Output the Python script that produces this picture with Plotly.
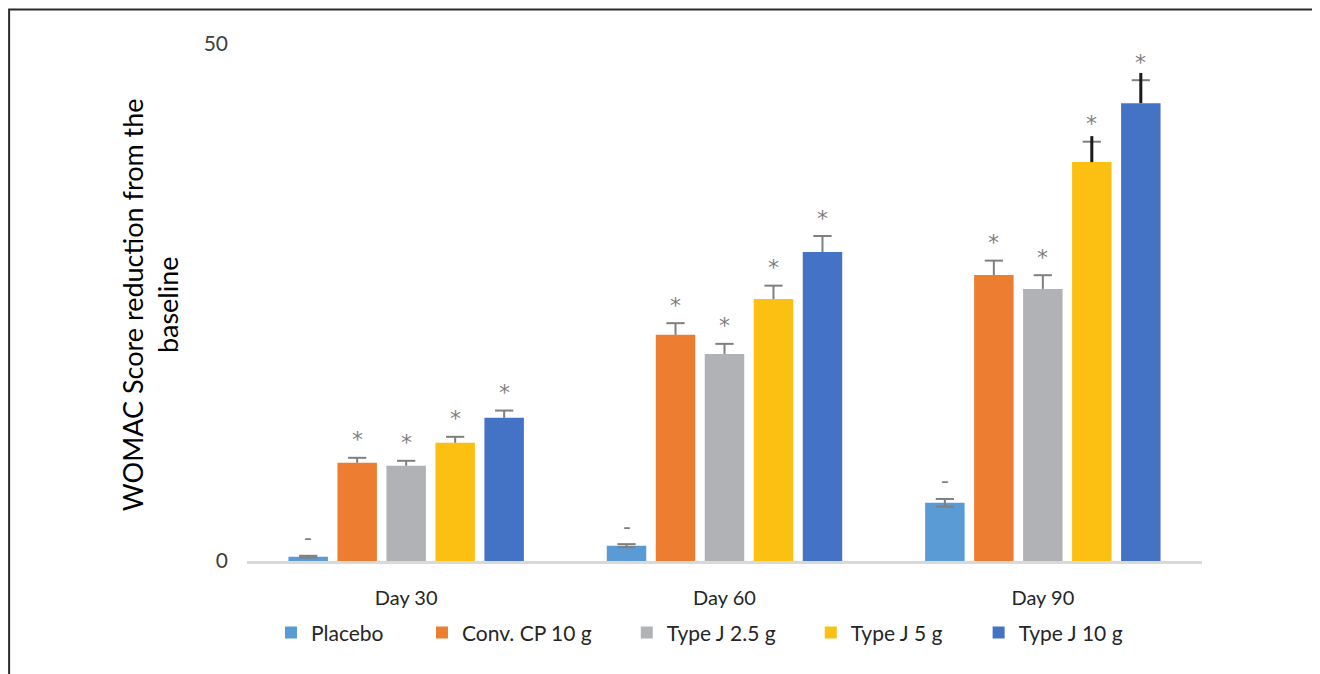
import plotly.graph_objects as go

# ---------------- data ----------------
categories = ["Day 30", "Day 60", "Day 90"]
series_names = ["Placebo", "Conv. CP 10 g", "Type J 2.5 g", "Type J 5 g", "Type J 10 g"]

placebo = [0.42, 1.48, 5.63]
conv_cp = [9.50, 21.87, 27.66]
type_j_25 = [9.21, 20.03, 26.31]
type_j_5 = [11.43, 25.34, 38.58]
type_j_10 = [13.85, 29.88, 44.28]

err_placebo = [0.08, 0.15, 0.37]
err_conv_cp = [0.48, 1.13, 1.39]
err_type_j_25 = [0.48, 0.97, 1.33]
err_type_j_5 = [0.58, 1.29, 1.97]
err_type_j_10 = [0.70, 1.55, 2.22]

# black extended error line (Day 90, Type J 5 g / 10 g)
ext_placebo = [0, 0, 0]
ext_conv_cp = [0, 0, 0]
ext_type_j_25 = [0, 0, 0]
ext_type_j_5 = [0, 0, 2.51]
ext_type_j_10 = [0, 0, 2.92]

sig_placebo = ["-", "-", "-"]
sig_conv_cp = ["*", "*", "*"]
sig_type_j_25 = ["*", "*", "*"]
sig_type_j_5 = ["*", "*", "*"]
sig_type_j_10 = ["*", "*", "*"]

y_tick_values = [0, 50]
y_title = "WOMAC Score reduction from the<br>baseline"

# ---------------- style ----------------
colors = ["#5B9BD5", "#ED7D31", "#B1B2B5", "#FBC012", "#4472C4"]
FONT = "Lato"
TEXT = "#262626"
ERR = "#7F7F7F"

values = [placebo, conv_cp, type_j_25, type_j_5, type_j_10]
errors = [err_placebo, err_conv_cp, err_type_j_25, err_type_j_5, err_type_j_10]
extras = [ext_placebo, ext_conv_cp, ext_type_j_25, ext_type_j_5, ext_type_j_10]
sigs = [sig_placebo, sig_conv_cp, sig_type_j_25, sig_type_j_5, sig_type_j_10]
symmetric = [True, False, False, False, False]

pitch = 0.1539
bar_w = 0.124

# legend placements (paper x of legend box left)
legend_x = [0.0251, 0.1832, 0.3977, 0.5903, 0.7661]

fig = go.Figure()
annotations = []

for k, name in enumerate(series_names):
    xs = [i + (k - 2) * pitch for i in range(len(categories))]
    fig.add_trace(go.Bar(
        x=xs, y=values[k], width=bar_w, name=name,
        marker=dict(color=colors[k], line=dict(width=0)),
        legend="legend" if k == 0 else f"legend{k+1}",
        hoverinfo="skip",
    ))

for k, name in enumerate(series_names):
    xs = [i + (k - 2) * pitch for i in range(len(categories))]
    lx, ly, cx, cy = [], [], [], []
    for i, x in enumerate(xs):
        v, e = values[k][i], errors[k][i]
        lo = v - e if symmetric[k] else v
        lx += [x, x, None]
        ly += [lo, v + e, None]
        cx.append(x)
        cy.append(v + e)
        if symmetric[k]:
            cx.append(x)
            cy.append(v - e)
    fig.add_trace(go.Scatter(x=lx, y=ly, mode="lines", line=dict(color=ERR, width=2),
                             showlegend=False, hoverinfo="skip"))
    fig.add_trace(go.Scatter(x=cx, y=cy, mode="markers",
                             marker=dict(symbol="line-ew", size=13, line=dict(color=ERR, width=2)),
                             showlegend=False, hoverinfo="skip"))
    bx, by = [], []
    for i, x in enumerate(xs):
        if extras[k][i] > 0:
            bx += [x, x, None]
            by += [values[k][i], values[k][i] + extras[k][i], None]
    if bx:
        fig.add_trace(go.Scatter(x=bx, y=by, mode="lines", line=dict(color="#1a1a1a", width=3),
                                 showlegend=False, hoverinfo="skip"))
    for i, x in enumerate(xs):
        top = values[k][i] + max(errors[k][i], 0)
        annotations.append(dict(
            x=x, y=top, xref="x", yref="y", text=sigs[k][i], showarrow=False,
            yanchor="middle", yshift=18,
            font=dict(family="DejaVu Sans", size=22, color=ERR),
        ))

annotations.append(dict(
    x=-0.1015, y=0.495, xref="paper", yref="paper", text=y_title, showarrow=False,
    textangle=-90, align="center", xanchor="center", yanchor="middle",
    font=dict(family=FONT, size=27, color="#000000"),
))

legend_common = dict(orientation="h", yanchor="middle", y=-0.139, xanchor="left",
                     font=dict(family=FONT, size=21, color=TEXT), bgcolor="rgba(0,0,0,0)",
                     borderwidth=0)
layout_legends = {}
for k in range(len(series_names)):
    key = "legend" if k == 0 else f"legend{k+1}"
    layout_legends[key] = dict(legend_common, x=legend_x[k])

fig.update_layout(
    width=1320, height=674,
    margin=dict(l=239, r=125.5, t=35.5, b=120.7),
    paper_bgcolor="white", plot_bgcolor="white",
    barmode="overlay",
    font=dict(family=FONT, color=TEXT),
    xaxis=dict(range=[-0.5, 2.5], tickmode="array", tickvals=list(range(len(categories))),
               ticktext=categories, showgrid=False, zeroline=False,
               showline=True, linecolor="#D9D9D9", linewidth=2.5,
               ticks="", ticklabelstandoff=17,
               tickfont=dict(family=FONT, size=20, color=TEXT), fixedrange=True),
    yaxis=dict(range=[0, 50], tickmode="array", tickvals=y_tick_values,
               showgrid=True, gridcolor="#D9D9D9", gridwidth=1.5, zeroline=False,
               showline=False, ticks="", ticklabelstandoff=18,
               tickfont=dict(family=FONT, size=21, color="#404040"), fixedrange=True),
    annotations=annotations,
    shapes=[dict(type="rect", xref="paper", yref="paper",
                 x0=-0.2491, x1=1.1188, y0=-0.35, y1=1.0666,
                 line=dict(color="#2b2b2b", width=2), fillcolor="rgba(0,0,0,0)", layer="above")],
    showlegend=True,
    **layout_legends,
)

fig.write_html("out.html")
